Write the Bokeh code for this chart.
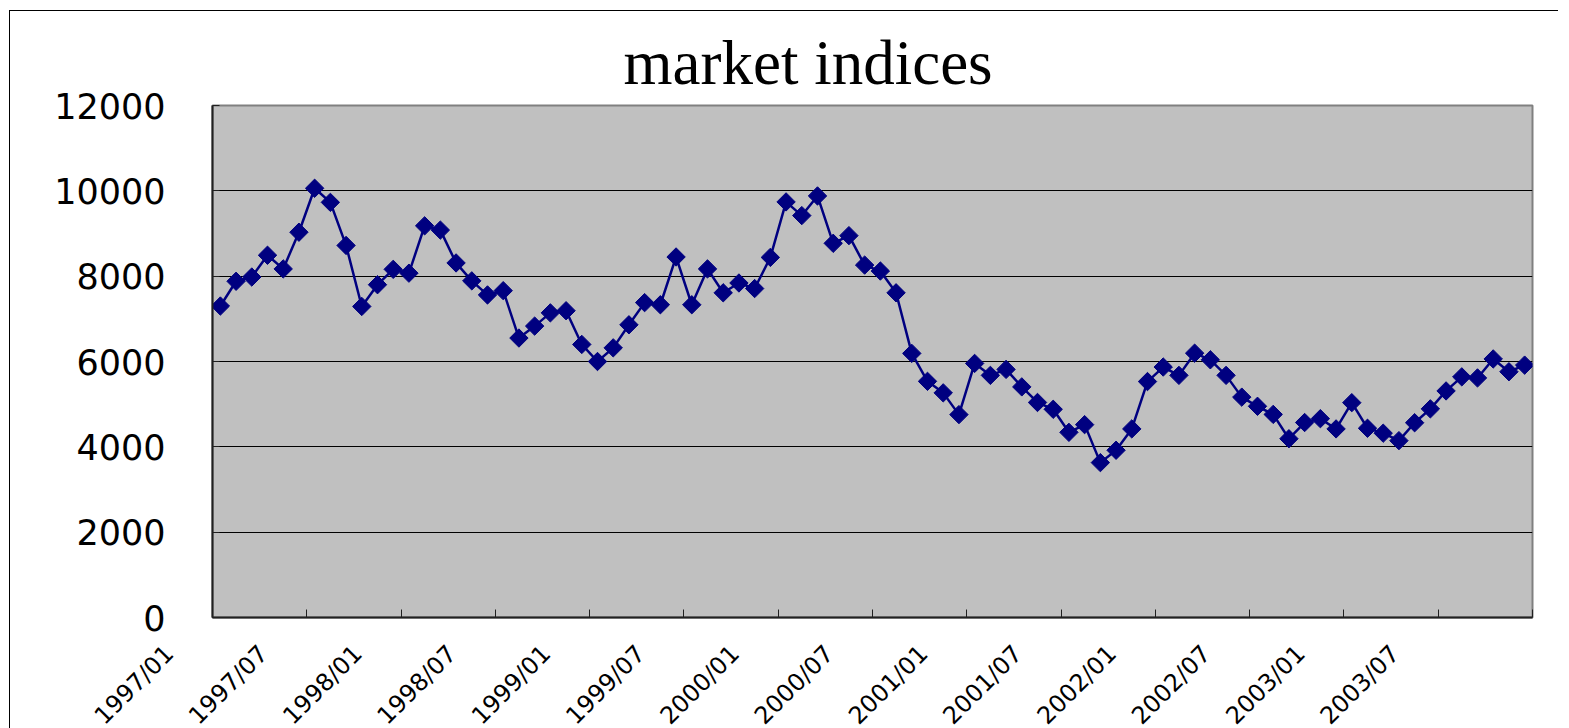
import numpy as np
from bokeh.plotting import figure
from bokeh.models import Range1d, FixedTicker, ColumnDataSource
from bokeh.embed import file_html
from bokeh.resources import INLINE

title_text = "market indices"

months = [f"{y}/{m:02d}" for y in range(1997, 2004) for m in range(1, 13)]

values = [
    7300, 7880, 7980, 8490, 8170, 9030, 10060, 9730, 8720, 7290, 7800, 8160,
    8070, 9180, 9080, 8310, 7890, 7560, 7660, 6550, 6830, 7140, 7190, 6400,
    6000, 6320, 6860, 7380, 7330, 8450, 7330, 8170, 7610, 7840, 7710, 8440,
    9740, 9420, 9880, 8770, 8950, 8260, 8120, 7610, 6190, 5535, 5265, 4755,
    5955, 5675, 5815, 5405, 5040, 4880, 4340, 4520, 3630, 3920, 4420, 5530,
    5870, 5675, 6195, 6040, 5675, 5165, 4950, 4760, 4190, 4570, 4660, 4420,
    5035, 4435, 4320, 4145, 4565, 4890, 5310, 5640, 5615, 6060, 5760, 5915,
]

tick_labels = ["1997/01", "1997/07", "1998/01", "1998/07", "1999/01", "1999/07",
               "2000/01", "2000/07", "2001/01", "2001/07", "2002/01", "2002/07",
               "2003/01", "2003/07"]

y_ticks = [0, 2000, 4000, 6000, 8000, 10000, 12000]

n = len(values)
x = [i + 0.5 for i in range(n)]
source = ColumnDataSource(dict(x=x, month=months[:n], value=values))

p = figure(frame_width=1320, frame_height=512,
           x_range=Range1d(0, n), y_range=Range1d(0, 12000),
           output_backend="svg", toolbar_location=None,
           min_border_left=202, min_border_right=26, min_border_top=94,
           min_border_bottom=0,
           title=title_text,
           background_fill_color="#C0C0C0", border_fill_color="white",
           outline_line_color="#808080", outline_line_width=2)

p.styles = {"border-top": "1px solid black", "border-left": "1px solid black",
            "margin-left": "9px", "margin-top": "10px"}

p.title.text_font = "Liberation Serif"
p.title.text_font_size = "63px"
p.title.text_font_style = "normal"
p.title.text_color = "black"
p.title.align = "left"
p.title.offset = 411
p.title.standoff = 16

# grid
p.xgrid.grid_line_color = None
p.ygrid.ticker = FixedTicker(ticks=y_ticks)
p.ygrid.grid_line_color = "black"
p.ygrid.grid_line_width = 1

# y axis
p.yaxis.ticker = FixedTicker(ticks=y_ticks)
p.yaxis.major_label_text_font = "DejaVu Sans"
p.yaxis.major_label_text_font_size = "35px"
p.yaxis.major_label_text_color = "black"
p.yaxis.major_tick_in = 7
p.yaxis.major_tick_out = 0
p.yaxis.minor_tick_in = 0
p.yaxis.minor_tick_out = 0
p.yaxis.axis_line_color = "#202020"
p.yaxis.axis_line_width = 2
p.yaxis.major_tick_line_color = "#202020"
p.yaxis.major_label_standoff = 47

# x axis: half-year ticks with rotated labels; the labels are padded at the end so
# that, like in the original, they finish a little down-left of their tick
pad = "\u00a0" * 8
tick_pos = [months.index(lbl) for lbl in tick_labels] + [n]
overrides = {months.index(lbl): lbl + pad for lbl in tick_labels}
overrides[n] = ""
p.xaxis.ticker = FixedTicker(ticks=tick_pos)
p.xaxis.major_label_overrides = overrides
p.xaxis.major_label_orientation = np.pi / 4
p.xaxis.major_label_standoff = -11
p.xaxis.major_label_text_font = "DejaVu Sans"
p.xaxis.major_label_text_font_size = "24px"
p.xaxis.major_label_text_color = "black"
p.xaxis.major_tick_in = 8
p.xaxis.major_tick_out = 0
p.xaxis.minor_tick_in = 0
p.xaxis.minor_tick_out = 0
p.xaxis.axis_line_color = "#202020"
p.xaxis.axis_line_width = 2
p.xaxis.major_tick_line_color = "#202020"

# series
p.line("x", "value", source=source, line_color="#000080", line_width=2.5)
p.scatter("x", "value", source=source, marker="square", angle=np.pi / 4,
          size=13, fill_color="#000080", line_color="#000080")

open("out.html", "w").write(file_html(p, INLINE))
